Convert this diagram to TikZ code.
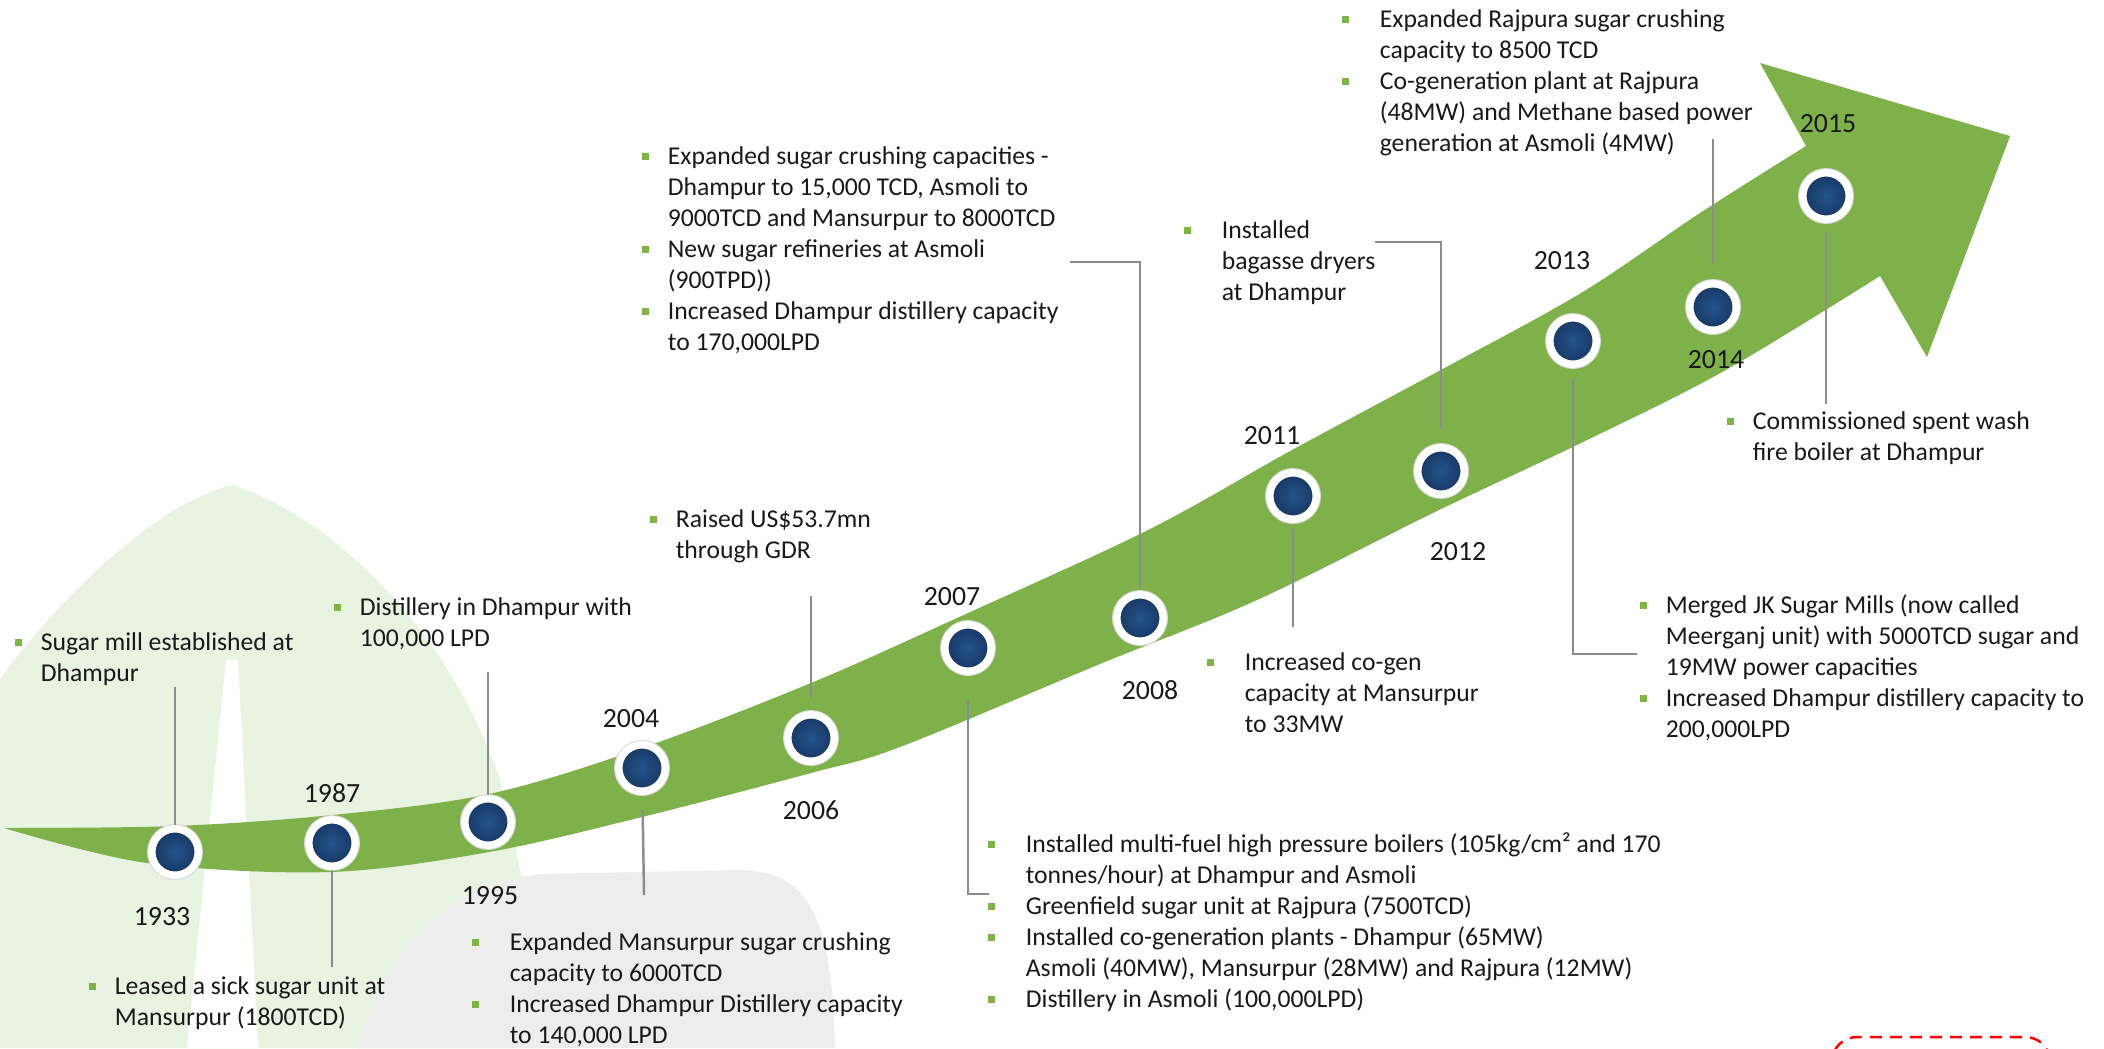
\documentclass[tikz,border=0pt]{standalone}
\usepackage{fontspec}
\setmainfont{Carlito}
\usepackage{tikz}

\definecolor{bandgreen}{RGB}{127,177,74}
\definecolor{bulgreen}{RGB}{125,180,70}
\definecolor{dotblue}{RGB}{38,84,140}
\definecolor{dotedge}{RGB}{22,54,98}
\definecolor{linkgray}{RGB}{140,140,140}
\definecolor{leafbg}{RGB}{233,243,225}
\definecolor{greybg}{RGB}{237,237,237}

\newcommand{\bsq}{\textcolor{bulgreen}{\rule[1.3pt]{2pt}{2pt}}}
\newcommand{\nbul}{\strut\makebox[7.3pt][l]{\bsq}}
\newcommand{\ncont}{\strut\hspace*{7.3pt}}
\newcommand{\wbul}{\strut\makebox[10.7pt][l]{\bsq}}
\newcommand{\wcont}{\strut\hspace*{10.7pt}}

\begin{document}
\begin{tikzpicture}[x=0.01cm, y=-0.01cm,
    dot/.style={circle, minimum size=13.2pt, inner sep=0pt, draw=white, line width=2.1pt,
      inner color=dotblue, outer color=dotedge, preaction={draw=black!15, line width=2.7pt}},
    year/.style={inner sep=0pt, text=black!90, font=\fontsize{7.9}{9}\selectfont},
    note/.style={anchor=north west, align=left, inner sep=0pt, text=black!90, font=\fontsize{7.3}{8.8}\selectfont},
    link/.style={draw=linkgray, line width=0.7pt}]
\useasboundingbox (0,0) rectangle (2104,1048);

\fill[leafbg] (0,679) .. controls (50,610) and (150,505) .. (232,485)
  .. controls (330,515) and (450,630) .. (500,780) -- (560,1048) -- (0,1048) -- cycle;
\fill[white] (226,660) -- (238,660) -- (258,1048) -- (187,1048) -- cycle;
\fill[greybg] (358,1048) .. controls (380,960) and (440,885) .. (540,874) -- (740,870)
  .. controls (800,872) and (832,900) .. (835,1048) -- cycle;

\fill[bandgreen] plot[smooth, tension=0.55] coordinates {(4,828) (175,826) (332,815) (489,794)
    (642,748) (811,683) (968,613) (1150,529) (1292,450) (1437,372) (1581,293) (1700,213) (1806,146)}
  -- (1760,63) -- (2010,136) -- (1927,357)
  -- plot[smooth, tension=0.55] coordinates {(1880,276) (1724,371) (1581,443) (1437,511) (1257,600)
    (1100,664) (900,747) (811,773) (642,817) (489,852) (330,872) (147,863) (4,828)} -- cycle;

\begin{scope}
\clip (0,0) rectangle (2104,1048);
\draw[red, line width=0.7pt, dash pattern=on 3.4pt off 2.3pt, rounded corners=7pt]
  (1832,1090) -- (1832,1037) -- (2050,1037) -- (2050,1090);
\end{scope}

\node[dot] (c1933) at (175,852) {};
\node[dot] (c1987) at (332,843) {};
\node[dot] (c1995) at (488,822) {};
\node[dot] (c2004) at (642,768) {};
\node[dot] (c2006) at (811,738) {};
\node[dot] (c2007) at (968,648) {};
\node[dot] (c2008) at (1140,618) {};
\node[dot] (c2011) at (1293,496) {};
\node[dot] (c2012) at (1441,471) {};
\node[dot] (c2013) at (1573,341) {};
\node[dot] (c2014) at (1713,307) {};
\node[dot] (c2015) at (1826,196) {};

\node[year] (y1933) at (162,917) {1933};
\node[year] (y1987) at (332,793) {1987};
\node[year] (y1995) at (490,896) {1995};
\node[year] (y2004) at (631,719) {2004};
\node[year] (y2006) at (811,810) {2006};
\node[year] (y2007) at (952,597) {2007};
\node[year] (y2008) at (1150,690) {2008};
\node[year] (y2011) at (1272,436) {2011};
\node[year] (y2012) at (1458,552) {2012};
\node[year] (y2013) at (1562,261) {2013};
\node[year] (y2014) at (1716,360) {2014};
\node[year] (y2015) at (1828,124) {2015};

\node[note] (t1933) at (14.5,628.4) {\nbul Sugar mill established at\\\ncont Dhampur};
\node[note] (t1987) at (88.5,972.4) {\nbul Leased a sick sugar unit at\\\ncont Mansurpur (1800TCD)};
\node[note] (t1995) at (333.5,593.4) {\nbul Distillery in Dhampur with\\\ncont 100,000 LPD};
\node[note] (t2004) at (471.5,928.4) {\wbul Expanded Mansurpur sugar crushing\\\wcont capacity to 6000TCD\\
  \wbul Increased Dhampur Distillery capacity\\\wcont to 140,000 LPD};
\node[note] (t2006) at (649.5,505.4) {\nbul Raised US\$53.7mn\\\ncont through GDR};
\node[note] (t2007) at (987.5,830.4) {\wbul Installed multi-fuel high pressure boilers (105kg/cm² and 170\\
  \wcont tonnes/hour) at Dhampur and Asmoli\\\wbul Greenfield sugar unit at Rajpura (7500TCD)\\
  \wbul Installed co-generation plants - Dhampur (65MW)\\\wcont Asmoli (40MW), Mansurpur (28MW) and Rajpura (12MW)\\
  \wbul Distillery in Asmoli (100,000LPD)};
\node[note] (t2008) at (641.5,142.4) {\nbul Expanded sugar crushing capacities -\\\ncont Dhampur to 15,000 TCD, Asmoli to\\
  \ncont 9000TCD and Mansurpur to 8000TCD\\\nbul New sugar refineries at Asmoli\\\ncont (900TPD))\\
  \nbul Increased Dhampur distillery capacity\\\ncont to 170,000LPD};
\node[note] (t2011) at (1206.5,648.4) {\wbul Increased co-gen\\\wcont capacity at Mansurpur\\\wcont to 33MW};
\node[note] (t2012) at (1183.5,216.4) {\wbul Installed\\\wcont bagasse dryers\\\wcont at Dhampur};
\node[note] (t2013) at (1639.5,591.4) {\nbul Merged JK Sugar Mills (now called\\\ncont Meerganj unit) with 5000TCD sugar and\\
  \ncont 19MW power capacities\\\nbul Increased Dhampur distillery capacity to\\\ncont 200,000LPD};
\node[note] (t2014) at (1341.5,5.4) {\wbul Expanded Rajpura sugar crushing\\\wcont capacity to 8500 TCD\\
  \wbul Co-generation plant at Rajpura\\\wcont (48MW) and Methane based power\\\wcont generation at Asmoli (4MW)};
\node[note] (t2015) at (1726.5,407.4) {\nbul Commissioned spent wash\\\ncont fire boiler at Dhampur};

\coordinate (e1933) at (175,687);
\coordinate (e1987) at (332,967);
\coordinate (e1995) at (488,672);
\coordinate (e2004) at (644,895);
\coordinate (e2006) at (811,596);
\coordinate (e2007) at (989,894);
\coordinate (e2008) at (1070,262);
\coordinate (e2011) at (1293,627);
\coordinate (e2012) at (1375,242);
\coordinate (e2013) at (1637,654);
\coordinate (e2014) at (1713,139);
\coordinate (e2015) at (1826,404);

\draw[link] (c1933) -- (e1933);
\draw[link] (c1987) -- (e1987);
\draw[link] (c1995) -- (e1995);
\draw[link, shorten <=4.3pt] (c2004) -- (e2004);
\draw[link, shorten <=3.7pt] (c2006) -- (e2006);
\draw[link, shorten <=7pt] (c2007) |- (e2007);
\draw[link, shorten <=1pt] (c2008) |- (e2008);
\draw[link, shorten <=1.7pt] (c2011) -- (e2011);
\draw[link, shorten <=4.3pt] (c2012) |- (e2012);
\draw[link, shorten <=3pt] (c2013) |- (e2013);
\draw[link, shorten <=5pt] (c2014) -- (e2014);
\draw[link, shorten <=2.5pt] (c2015) -- (e2015);
\end{tikzpicture}
\end{document}
